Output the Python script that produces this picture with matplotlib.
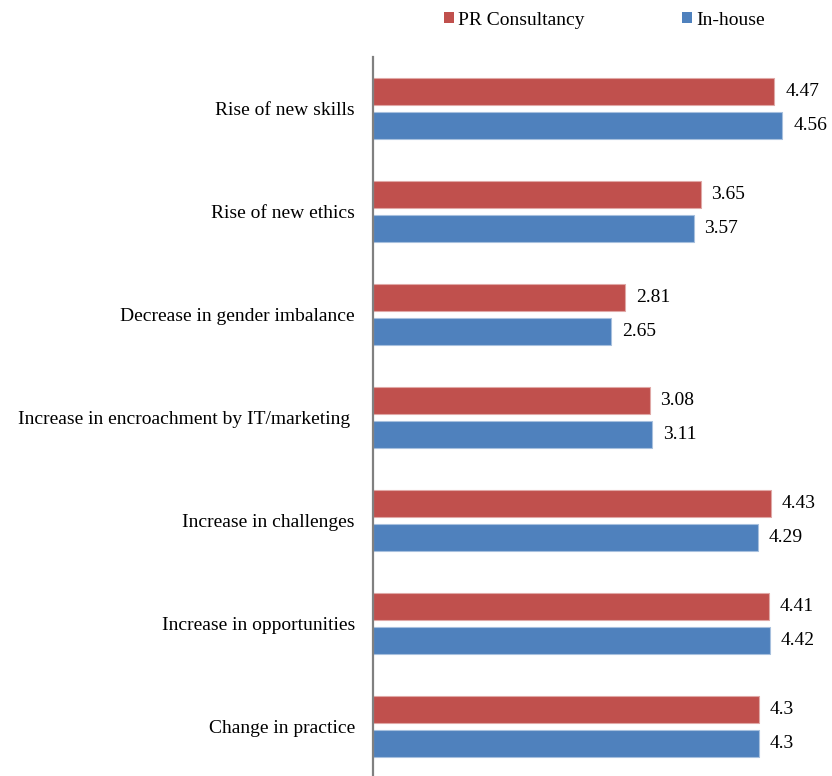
import matplotlib
import matplotlib.pyplot as plt
import numpy as np
from matplotlib.patches import Rectangle

matplotlib.use('Agg')

plt.rcParams['font.family'] = ['Liberation Serif', 'DejaVu Serif']

categories = [
    "Rise of new skills",
    "Rise of new ethics",
    "Decrease in gender imbalance",
    "Increase in encroachment by IT/marketing ",
    "Increase in challenges",
    "Increase in opportunities",
    "Change in practice",
]
consultancy = [4.47, 3.65, 2.81, 3.08, 4.43, 4.41, 4.3]
in_house = [4.56, 3.57, 2.65, 3.11, 4.29, 4.42, 4.3]
series_names = ["PR Consultancy", "In-house"]

RED = '#C0504D'
BLUE = '#4F81BD'
W, H = 832, 776

fig = plt.figure(figsize=(W / 100, H / 100), dpi=100)
ax = fig.add_axes([373 / W, -2.5 / H, 459 / W, 721.7 / H])

y = np.arange(len(categories))
height = 0.262
offset = 0.165

ax.barh(y - offset, consultancy, height=height, color=RED,
        edgecolor='#E0A8A6', linewidth=0.8)
ax.barh(y + offset, in_house, height=height, color=BLUE,
        edgecolor='#A7C0DE', linewidth=0.8)

for yi, v in zip(y, consultancy):
    ax.text(v + 0.12, yi - offset, f"{v:g}", va='center', ha='left', fontsize=14)
for yi, v in zip(y, in_house):
    ax.text(v + 0.12, yi + offset, f"{v:g}", va='center', ha='left', fontsize=14)

ax.set_xlim(0, 459 / 89.8)
ax.set_ylim(len(categories) - 0.5, -0.5)
ax.set_yticks(y)
ax.set_yticklabels(categories, fontsize=14)
ax.tick_params(axis='y', length=0, pad=13)
ax.set_xticks([])
for side in ('top', 'right', 'bottom'):
    ax.spines[side].set_visible(False)
ax.spines['left'].set_color('#808080')
ax.spines['left'].set_linewidth(1.6)

# legend drawn by hand so both labels share one baseline
for x0, color, name in zip([444, 682], [RED, BLUE], series_names):
    fig.patches.append(Rectangle((x0 / W, 1 - 23 / H), 10 / W, 11 / H,
                                 transform=fig.transFigure, facecolor=color,
                                 edgecolor='none'))
    fig.text((x0 + 14) / W, 1 - 25 / H, name, fontsize=14, va='baseline', ha='left')

fig.savefig('out.png', dpi=100)
